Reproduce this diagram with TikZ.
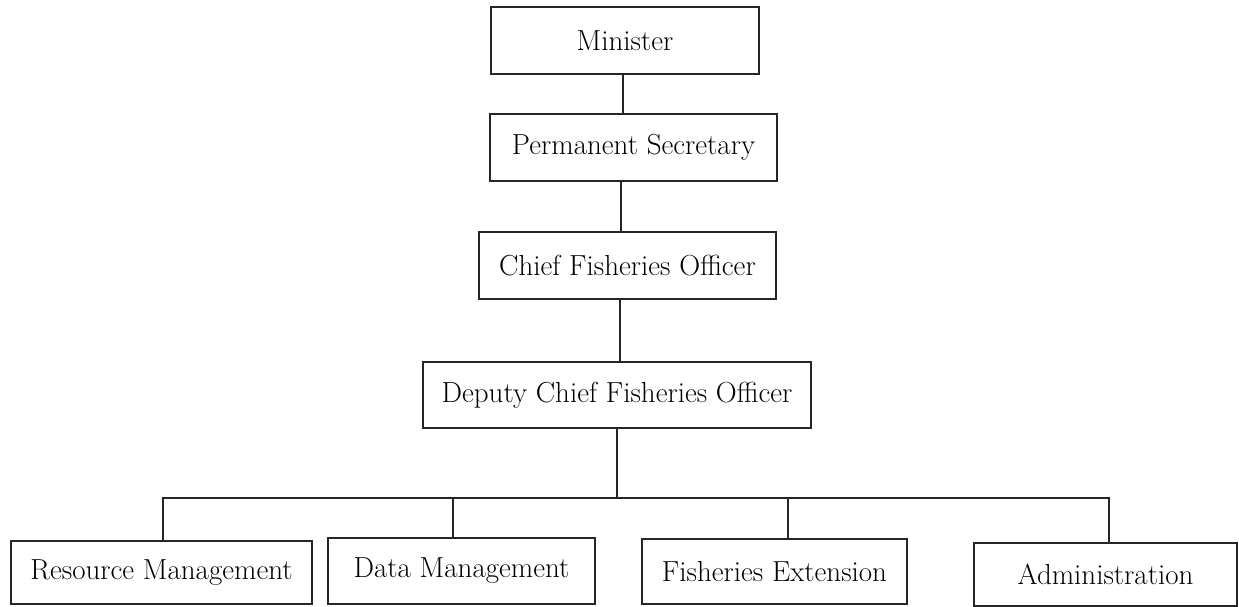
\documentclass[tikz,border=0pt]{standalone}
\usepackage{fontspec}
\begin{document}
\begin{tikzpicture}[x=1pt,y=-1pt,
  box/.style={draw=black!85, line width=1.3pt, rectangle, inner sep=0pt, align=center,
    font=\fontsize{29}{34}\selectfont, text=black},
  link/.style={draw=black!85, line width=1.3pt}]
\useasboundingbox (0,0) rectangle (1239,607);
\node[box, minimum width=268pt, minimum height=67pt] (minister) at (625,40.5) {Minister};
\node[box, minimum width=287pt, minimum height=67pt] (perm) at (633.5,147.5) {Permanent Secretary};
\node[box, minimum width=297pt, minimum height=67pt] (chief) at (627.5,265.5) {Chief Fisheries Officer};
\node[box, minimum width=388pt, minimum height=66pt] (deputy) at (617,395) {Deputy Chief Fisheries Officer};
\node[box, minimum width=301pt, minimum height=63pt] (resource) at (161.5,572.5) {Resource Management};
\node[box, minimum width=267pt, minimum height=66pt] (data) at (461.5,571) {Data Management};
\node[box, minimum width=265pt, minimum height=65pt] (fish) at (774.5,571.5) {Fisheries Extension};
\node[box, minimum width=263pt, minimum height=63pt] (admin) at (1105.5,574.5) {Administration};
\coordinate (bus) at (617,498);
\draw[link] ([xshift=-2pt]minister.south) -- ([xshift=-2pt]minister.south |- perm.north);
\draw[link] ([xshift=-12.5pt]perm.south) -- ([xshift=-12.5pt]perm.south |- chief.north);
\draw[link] ([xshift=-7.5pt]chief.south) -- ([xshift=-7.5pt]chief.south |- deputy.north);
\draw[link] (deputy.south) -- (bus);
\draw[link] ([xshift=1.5pt]resource.north) |- ([xshift=3.5pt]admin.north |- bus) -- ([xshift=3.5pt]admin.north);
\draw[link] ([xshift=-8.5pt]data.north) -- ([xshift=-8.5pt]data.north |- bus);
\draw[link] ([xshift=13.5pt]fish.north) -- ([xshift=13.5pt]fish.north |- bus);
\end{tikzpicture}
\end{document}
